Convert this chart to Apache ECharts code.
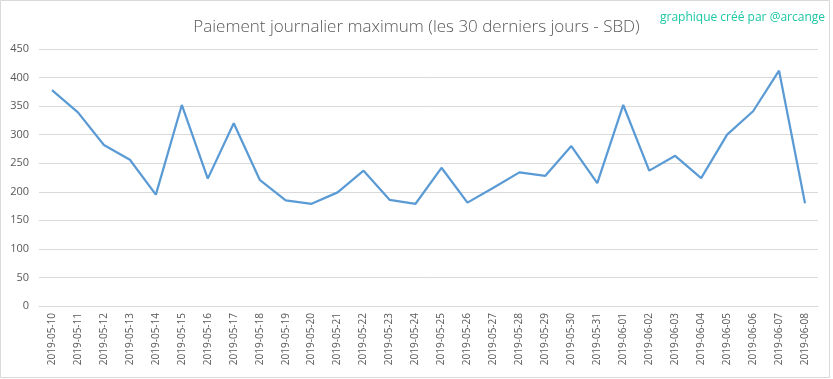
<!DOCTYPE html>
<html>
<head>
<meta charset="utf-8">
<script src="https://cdn.jsdelivr.net/npm/echarts@6/dist/echarts.min.js"></script>
<style>
html,body{margin:0;padding:0;background:#fff;}
#c{width:833px;height:379px;}
</style>
</head>
<body>
<div id="c"></div>
<script>
const categories = ["2019-05-10","2019-05-11","2019-05-12","2019-05-13","2019-05-14","2019-05-15","2019-05-16","2019-05-17","2019-05-18","2019-05-19","2019-05-20","2019-05-21","2019-05-22","2019-05-23","2019-05-24","2019-05-25","2019-05-26","2019-05-27","2019-05-28","2019-05-29","2019-05-30","2019-05-31","2019-06-01","2019-06-02","2019-06-03","2019-06-04","2019-06-05","2019-06-06","2019-06-07","2019-06-08"];
const payouts = [378,339,282,256,195,352,223,320,221,185,179,199,237,186,179,242,181,207,234,228,280,215,352,237,263,224,300,341,412,180];
const yTicks = {min:0, max:450, interval:50};
const titleText = "Paiement journalier maximum (les 30 derniers jours - SBD)";
const creditText = "graphique créé par @arcange";

const chart = echarts.init(document.getElementById('c'));
chart.setOption({
  animation:false,
  backgroundColor:'#fff',
  graphic:[{type:'rect',shape:{x:0.5,y:0.5,width:829,height:377},style:{fill:'none',stroke:'#d9d9d9',lineWidth:1},silent:true}],
  title:[{
    text:titleText,left:'center',top:14,
    textStyle:{fontFamily:'Open Sans',fontWeight:300,fontSize:17,color:'#595959'}
  },{
    text:creditText,right:3,top:7,
    textStyle:{fontFamily:'Open Sans',fontWeight:'normal',fontSize:12,color:'#1cc7a4'}
  }],
  grid:{left:39,right:15,top:49,bottom:73},
  xAxis:{
    type:'category',data:categories,boundaryGap:true,
    axisLine:{show:true,lineStyle:{color:'#d9d9d9'}},
    axisTick:{show:false},
    axisLabel:{rotate:90,interval:0,fontFamily:'Open Sans',fontSize:10,color:'#595959',margin:7}
  },
  yAxis:{
    type:'value',min:yTicks.min,max:yTicks.max,interval:yTicks.interval,
    axisLine:{show:false},axisTick:{show:false},
    axisLabel:{fontFamily:'Open Sans',fontSize:11,color:'#595959',margin:10},
    splitLine:{lineStyle:{color:'#d9d9d9'}}
  },
  series:[{
    type:'line',data:payouts,symbol:'none',
    lineStyle:{color:'#5b9bd5',width:2.25},
    itemStyle:{color:'#5b9bd5'}
  }]
});
</script>
</body>
</html>
